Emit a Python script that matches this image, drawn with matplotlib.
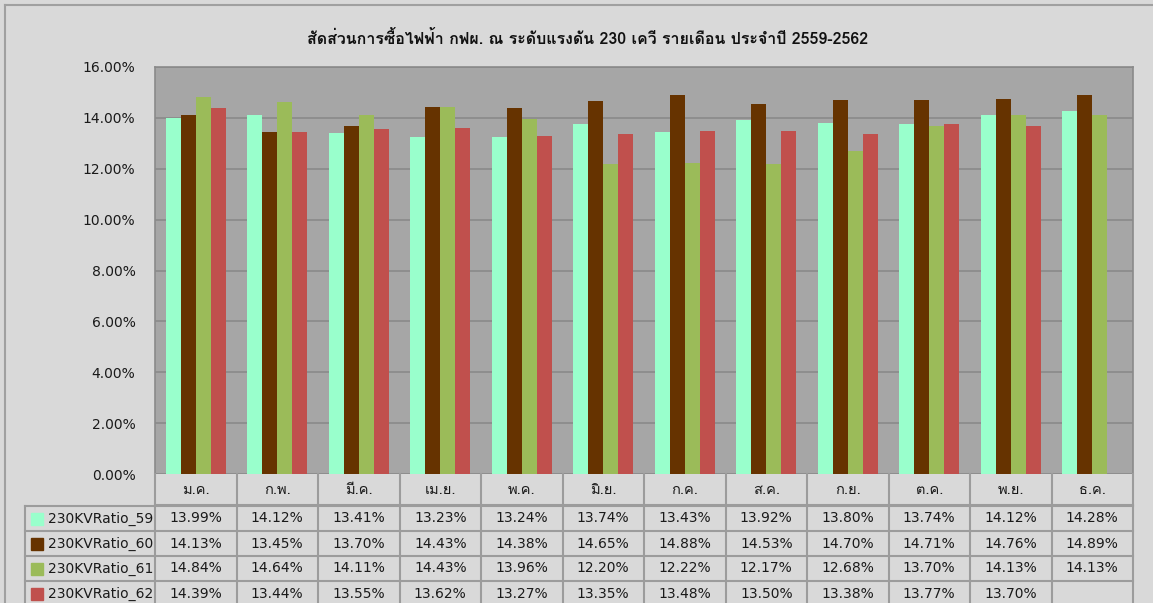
import numpy as np
import matplotlib
matplotlib.use('Agg')
import matplotlib.pyplot as plt
from matplotlib.patches import Rectangle
from matplotlib.lines import Line2D
from matplotlib.ticker import FuncFormatter
import matplotlib.transforms as mtransforms

title = "สัดส่วนการซื้อไฟฟ้า กฟผ. ณ ระดับแรงดัน 230 เควี รายเดือน ประจำปี 2559-2562"
months = ["ม.ค.", "ก.พ.", "มี.ค.", "เม.ย.", "พ.ค.", "มิ.ย.", "ก.ค.", "ส.ค.", "ก.ย.", "ต.ค.", "พ.ย.", "ธ.ค."]
series_names = ["230KVRatio_59", "230KVRatio_60", "230KVRatio_61", "230KVRatio_62"]
ratio_59 = [13.99, 14.12, 13.41, 13.23, 13.24, 13.74, 13.43, 13.92, 13.80, 13.74, 14.12, 14.28]
ratio_60 = [14.13, 13.45, 13.70, 14.43, 14.38, 14.65, 14.88, 14.53, 14.70, 14.71, 14.76, 14.89]
ratio_61 = [14.84, 14.64, 14.11, 14.43, 13.96, 12.20, 12.22, 12.17, 12.68, 13.70, 14.13, 14.13]
ratio_62 = [14.39, 13.44, 13.55, 13.62, 13.27, 13.35, 13.48, 13.50, 13.38, 13.77, 13.70, np.nan]
colors = ["#99FFCC", "#663300", "#9BBB59", "#C0504D"]
series = [ratio_59, ratio_60, ratio_61, ratio_62]

W, H = 1153, 603
fig = plt.figure(figsize=(W / 100, H / 100), dpi=100)
fig.patch.set_facecolor("#D9D9D9")

def fx(px):
    return px / W

def fy(py):
    return 1 - py / H

# chart border
fig.add_artist(Line2D([fx(5), fx(1153)], [fy(5), fy(5)], color="#A0A0A0", lw=1.5))
fig.add_artist(Line2D([fx(5), fx(5)], [fy(5), fy(603)], color="#A0A0A0", lw=1.5))

ax_l, ax_r, ax_t, ax_b = 155, 1133, 67, 474
ax = fig.add_axes([fx(ax_l), fy(ax_b), fx(ax_r - ax_l), fy(ax_t) - fy(ax_b)])
ax.set_facecolor("#A6A6A6")
x = np.arange(len(months))
bw = 0.184
for i, (vals, c) in enumerate(zip(series, colors)):
    ax.bar(x + (i - 1.5) * bw, np.array(vals) / 100, width=bw, color=c, zorder=3, linewidth=0)
ax.set_xlim(-0.5, len(months) - 0.5)
ax.set_ylim(0, 0.16)
ax.set_yticks(np.arange(0, 0.1601, 0.02))
ax.yaxis.set_major_formatter(FuncFormatter(lambda v, p: f"{v*100:.2f}%"))
ax.tick_params(axis='y', length=0, pad=14, labelsize=10, labelcolor="#1a1a1a")
ax.set_xticks([])
ax.grid(axis='y', color="#8A8A8A", lw=1.2, zorder=1)
for s in ax.spines.values():
    s.set_color("#8A8A8A")
    s.set_linewidth(1.2)
ax.spines['bottom'].set_visible(False)

fig.text(0.51, fy(38), title, ha='center', va='center', fontsize=11.5,
         fontweight='bold', family=['Loma', 'DejaVu Sans'], color="#111111")

# data table
tr = mtransforms.blended_transform_factory(ax.transData, fig.transFigure)
lc = "#9C9C9C"
row_tops = [506, 531, 556, 581, 606]
header_mid = 490
for k in range(len(months) + 1):
    fig.add_artist(Line2D([k - 0.5, k - 0.5], [fy(474), fy(603)], transform=tr, color=lc, lw=1.5))
for k, m in enumerate(months):
    fig.text(k, fy(header_mid), m, transform=tr, ha='center', va='center', fontsize=10.5,
             family=['Loma', 'DejaVu Sans'], color="#1a1a1a")
fig.add_artist(Line2D([fx(ax_l), fx(ax_r)], [fy(505), fy(505)], color=lc, lw=1.5))
for yy in row_tops[:4]:
    fig.add_artist(Line2D([fx(25), fx(ax_r)], [fy(yy), fy(yy)], color=lc, lw=1.5))
fig.add_artist(Line2D([fx(25), fx(25)], [fy(506), fy(603)], color=lc, lw=1.5))
for r, (name, vals, c) in enumerate(zip(series_names, series, colors)):
    ymid = (row_tops[r] + row_tops[r + 1]) / 2
    fig.add_artist(Rectangle((fx(31), fy(ymid + 6)), fx(12), fy(ymid - 6) - fy(ymid + 6), color=c))
    fig.text(fx(48), fy(ymid), name, ha='left', va='center', fontsize=10, color="#1a1a1a")
    for k, v in enumerate(vals):
        if np.isnan(v):
            continue
        fig.text(k, fy(ymid), f"{v:.2f}%", transform=tr, ha='center', va='center',
                 fontsize=10, color="#1a1a1a")

fig.savefig("out.png", dpi=100, facecolor=fig.get_facecolor())
